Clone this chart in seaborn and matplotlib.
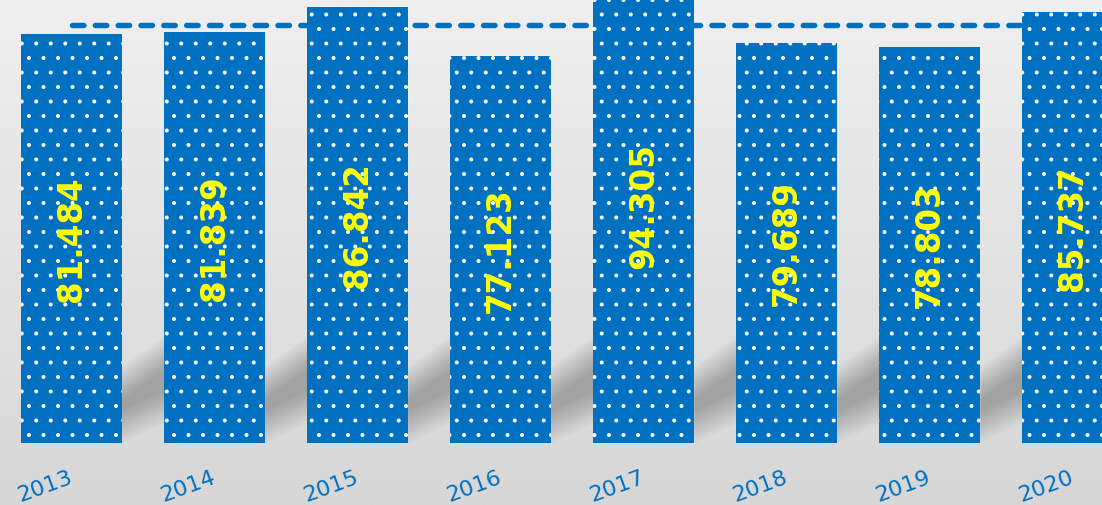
import numpy as np
import pandas as pd
import matplotlib
matplotlib.use('Agg')
import matplotlib.pyplot as plt
import seaborn as sns
from matplotlib.patches import Polygon
from matplotlib.colors import LinearSegmentedColormap

# data
years = ['2013', '2014', '2015', '2016', '2017', '2018', '2019', '2020']
values = [81.484, 81.839, 86.842, 77.123, 94.305, 79.689, 78.803, 85.737]
average = 83.3

sns.set_theme(style='white')
plt.rcParams['font.family'] = ['DejaVu Sans']
plt.rcParams['hatch.color'] = 'white'
plt.rcParams['hatch.linewidth'] = 0.9

DPI = 87
fig = plt.figure(figsize=(1102.4 / DPI, 505.4 / DPI), dpi=DPI)
ax = fig.add_axes([0, 0, 1, 1])

xlim = (-0.5, 7.206)
ylim = (-12.35, 88.26)

# grey gradient background
bg = LinearSegmentedColormap.from_list('bg', ['#efefef', '#d7d7d7'])
ax.imshow(np.linspace(0, 1, 256).reshape(-1, 1), cmap=bg, aspect='auto',
          extent=[xlim[0], xlim[1], ylim[0], ylim[1]], zorder=0)

df = pd.DataFrame({'year': years, 'value': values})
sns.barplot(data=df, x='year', y='value', color='#0070C0', saturation=1,
            width=0.706, edgecolor='white', linewidth=0, hatch='.',
            errorbar=None, zorder=2, ax=ax)
bars = list(ax.patches)

# soft diagonal shadows in the gaps (layered for a blurred edge)
gap = 1 - bars[0].get_width()
for p in bars:
    x1 = p.get_x() + p.get_width()
    for k in range(10):
        d = k * 0.7
        ax.add_patch(Polygon([(x1, d), (x1 + gap, 4 + d), (x1 + gap, 21 - d), (x1, 15 - d)],
                             closed=True, facecolor='black', edgecolor='none',
                             alpha=0.028, zorder=1))

# dashed average line
ax.plot([0, len(years)], [average, average], color='#0070C0', lw=4.5,
        linestyle=(0, (2.1, 2.1)), dash_capstyle='round', zorder=1.5)

# value labels inside bars
for p, v in zip(bars, values):
    ax.text(p.get_x() + p.get_width() / 2, v / 2, f'{v:.3f}', rotation=90,
            ha='center', va='center', color='#FFFF00', fontsize=27,
            fontweight='bold', zorder=3)

# year labels
for i, y in enumerate(years):
    ax.text(i, -6.6, y, rotation=20, ha='right', va='center',
            rotation_mode='anchor', color='#0070C0', fontsize=18.5, zorder=3)

ax.set_xlim(*xlim)
ax.set_ylim(*ylim)
ax.axis('off')

fig.savefig('out.png', dpi=DPI)
